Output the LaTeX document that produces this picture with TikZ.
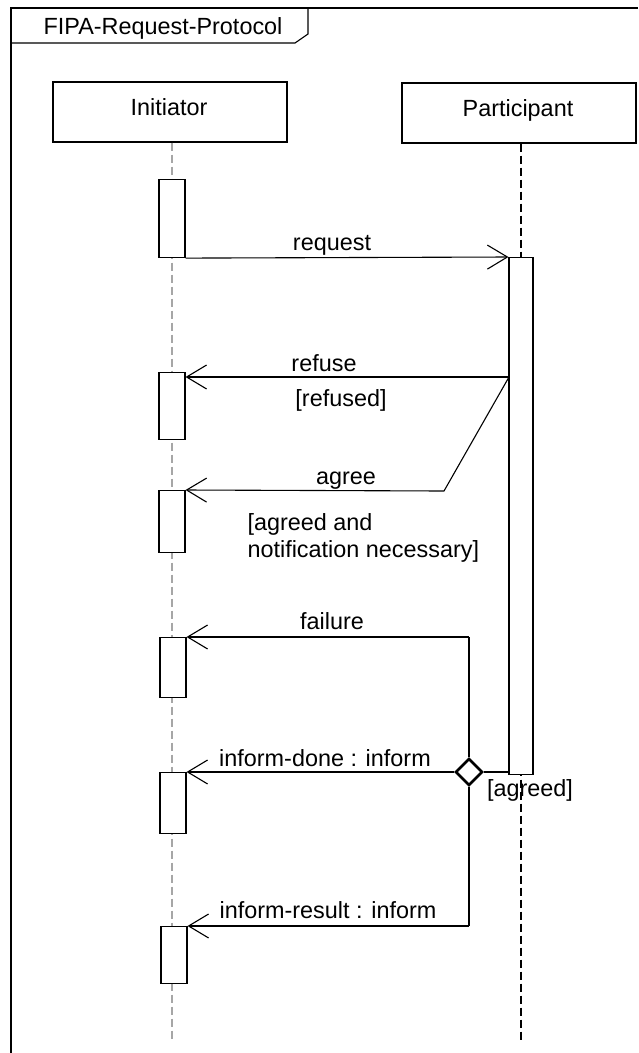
\documentclass[tikz,border=0pt]{standalone}
\usepackage{fontspec}
\setmainfont{Liberation Sans}
\usetikzlibrary{arrows.meta,shapes.geometric}
\begin{document}
\begin{tikzpicture}[x=1pt,y=-1pt,
  font=\fontsize{23.4}{27}\selectfont, line width=1.1pt,
  headbox/.style={draw, rectangle, minimum width=234pt, minimum height=60pt, inner sep=0pt},
  actbox/.style={draw, fill=white, rectangle, minimum width=26pt, inner sep=0pt, anchor=north},
  msg/.style={-{Straight Barb[length=20pt,width=24pt]}},
  lbl/.style={anchor=base, inner sep=0pt},
  thickline/.style={line width=2.6pt}]
\useasboundingbox (0,0) rectangle (638,1053);
% frame
\draw (11,1053) -- (11,8) -- (638,8);
\draw (11,43) -- (295,43) -- (308,34) -- (308,8);
\node[lbl] (title) at (163,34) {FIPA-Request-Protocol};
% lifeline heads
\node[headbox] (ihead) at (170,112) {};
\node[lbl] (itxt) at (169,115) {Initiator};
\node[headbox] (phead) at (519,113) {};
\node[lbl] (ptxt) at (518,116) {Participant};
% lifelines
\coordinate (iend) at (172,1040);
\coordinate (pend) at (521,1040);
\draw[gray!70, dash pattern=on 8pt off 4pt] (ihead.south -| iend) -- (iend);
\draw[dash pattern=on 8pt off 4pt] (phead.south -| pend) -- (pend);
% activations
\node[actbox, minimum height=78pt] (a1) at (172,179) {};
\node[actbox, minimum height=517pt, minimum width=24pt] (pact) at (521,257) {};
\node[actbox, minimum height=67pt] (a2) at (172,372) {};
\node[actbox, minimum height=62pt] (a3) at (172,490) {};
\node[actbox, minimum height=60pt] (a4) at (173,637) {};
\node[actbox, minimum height=61pt] (a5) at (173,772) {};
\node[actbox, minimum height=57pt] (a6) at (174,926) {};
% request
\draw[msg] (a1.south east) -- (pact.north west);
\node[lbl] (lreq) at (332,250) {request};
% refuse / agree
\coordinate (rf) at (509,377);
\coordinate (ag) at (444,491);
\draw[msg] (rf) -- (a2.east |- rf);
\node[lbl] (lref) at (324,371) {refuse};
\node[lbl] (lrefd) at (341,406) {[refused]};
\draw[msg] (rf) -- (ag) -- (a3.north east);
\node[lbl] (lagr) at (346,484) {agree};
\node[anchor=base west, inner sep=0pt, align=left] (lagrd) at (247,557) {[agreed and\\notification necessary]};
% decision
\coordinate (ftop) at (469,637);
\coordinate (fbot) at (469,926);
\node[diamond, draw, thickline, fill=white, minimum width=27pt, minimum height=27pt, inner sep=0pt] (dec) at (469,772) {};
\draw[thickline] (ftop) -- (dec.north);
\draw[thickline] (dec.south) -- (fbot);
\draw (pact.west |- dec) -- (dec.east);
\draw[msg] (ftop) -- (a4.north east);
\node[lbl] (lfail) at (332,629) {failure};
\draw[msg] (dec.west) -- (a5.north east);
\node[lbl] (ldone) at (325,766) {inform-done : inform};
\node[lbl] (lagd) at (530,796) {[agreed]};
\draw[msg] (fbot) -- (a6.north east);
\node[lbl] (lres) at (328,918) {inform-result : inform};
\end{tikzpicture}
\end{document}
